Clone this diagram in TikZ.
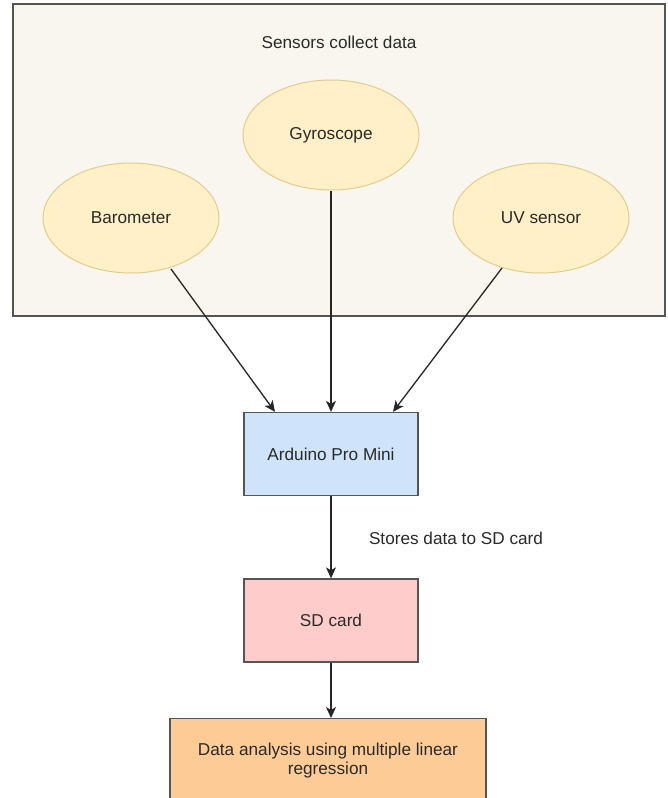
\documentclass[tikz,border=0pt]{standalone}
\usepackage{fontspec}
\setmainfont{Liberation Sans}
\usetikzlibrary{shapes.geometric,arrows.meta}
\definecolor{txt}{HTML}{2A2A2A}
\definecolor{edge}{HTML}{555555}
\definecolor{groupfill}{HTML}{F8F6EE}
\definecolor{ellfill}{HTML}{FFF0C8}
\definecolor{elledge}{HTML}{E3CC8C}
\definecolor{bluefill}{HTML}{CFE4FA}
\definecolor{pinkfill}{HTML}{FFCCCC}
\definecolor{orangefill}{HTML}{FDCB96}
\begin{document}
\begin{tikzpicture}[x=1pt,y=-1pt,
  every node/.style={font=\fontsize{17.2}{19}\selectfont, text=txt},
  sensor/.style={ellipse, draw=elledge, line width=1pt, fill=ellfill, minimum width=176pt, minimum height=110pt, inner sep=0pt},
  procbox/.style={rectangle, draw=edge, line width=1.3pt, minimum width=174pt, minimum height=83pt, inner sep=0pt},
  conn/.style={draw=black!85, line width=1.3pt, -{Stealth[length=11pt,width=10pt,inset=3pt]}}]
\useasboundingbox (0,0) rectangle (668,798);
\clip (0,0) rectangle (668,798);
\fill[white] (0,0) rectangle (668,798);
\node[draw=edge, line width=1.3pt, fill=groupfill, minimum width=652pt, minimum height=312pt, inner sep=0pt] (group) at (339,160) {};
\node (title) at (339,42) {Sensors collect data};
\node[sensor] (gyro) at (331,135) {Gyroscope};
\node[sensor] (baro) at (131,218) {Barometer};
\node[sensor] (uv) at (541,218) {UV sensor};
\node[procbox, fill=bluefill] (ard) at (331,454) {Arduino Pro Mini};
\node[procbox, fill=pinkfill] (sd) at (331,620.5) {SD card};
\node[procbox, fill=orangefill, minimum width=316pt, minimum height=84pt, align=center, anchor=north] (data) at (328,718) {Data analysis using multiple linear\\regression};
\node[anchor=center] (storelbl) at (456,538) {Stores data to SD card};
\coordinate (bs) at (171,269);
\coordinate (us) at (502,268);
\draw[conn] (bs) -- (ard.north west -| 275,0);
\draw[conn] (gyro.south) -- (ard.north);
\draw[conn] (us) -- (ard.north east -| 393,0);
\draw[conn] (ard.south) -- (sd.north);
\draw[conn] (sd.south) -- (sd.south |- data.north);
\end{tikzpicture}
\end{document}
